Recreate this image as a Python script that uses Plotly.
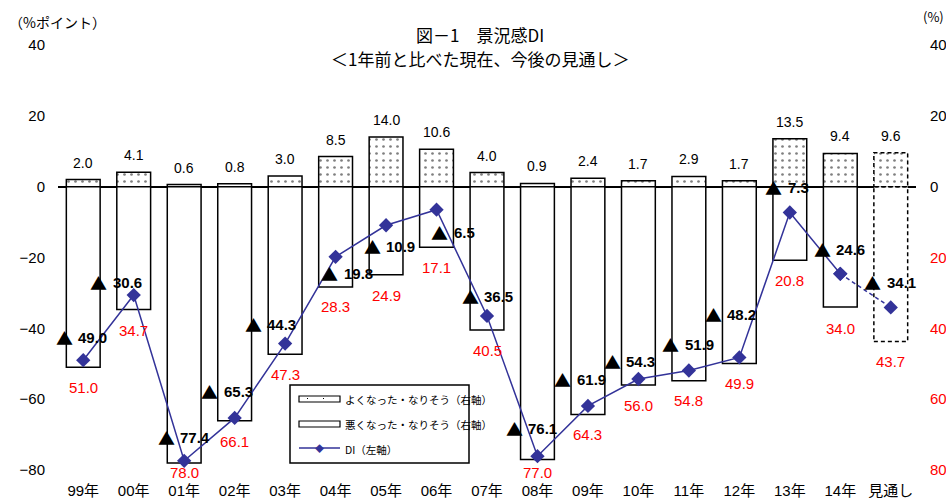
import plotly.graph_objects as go

# ---- data -------------------------------------------------------------
categories = ["99年", "00年", "01年", "02年", "03年", "04年", "05年", "06年",
              "07年", "08年", "09年", "10年", "11年", "12年", "13年", "14年", "見通し"]
better = [2.0, 4.1, 0.6, 0.8, 3.0, 8.5, 14.0, 10.6, 4.0, 0.9, 2.4, 1.7, 2.9, 1.7, 13.5, 9.4, 9.6]
worse = [51.0, 34.7, 78.0, 66.1, 47.3, 28.3, 24.9, 17.1, 40.5, 77.0, 64.3, 56.0, 54.8, 49.9, 20.8, 34.0, 43.7]
di = [-49.0, -30.6, -77.4, -65.3, -44.3, -19.8, -10.9, -6.5, -36.5, -76.1, -61.9,
      -54.3, -51.9, -48.2, -7.3, -24.6, -34.1]

left_tickvals = [40, 20, 0, -20, -40, -60, -80]
right_ticktext = ["40", "20", "0", "20", "40", "60", "80"]

# ---- styling constants ------------------------------------------------
BAR_W = 0.67
DI_COLOR = "#333399"
RED = "#FF0000"
FONT = "Liberation Sans, Noto Sans CJK JP, sans-serif"
JFONT = "Noto Sans CJK JP, sans-serif"
SHORT_DASH = "4px,3px"

# pixel offsets of each DI label's ▲ from its point (dx right, dy down)
di_tri_dx = [-19, -35, -18, -25, -32, -6, -14, 3, -17, -23, -25, -26, -18, -26, -16, -18, -18]
di_tri_dy = [-23, -13, -23, -26, -19, 17, 21, 23, -19, -28, -26, -17, -26, -43, -25, -24, -25]
# pixel drop of each red label below its bar end
worse_label_dy = [20, 21, 10, 21, 20, 20, 21, 20, 20, 13, 20, 20, 20, 20, 20, 21, 20]

n = len(categories)
idx = list(range(n))
last = n - 1

fig = go.Figure()

edge_colors = ["black"] * (n - 1) + ["rgba(0,0,0,0)"]

# bars read against the right-hand axis
fig.add_trace(go.Bar(
    x=idx, y=better, width=BAR_W, yaxis="y",
    marker=dict(color="white",
                pattern=dict(shape=".", fgcolor="black", bgcolor="white", size=7, solidity=0.12),
                line=dict(color=edge_colors, width=1.5)),
    hoverinfo="skip", showlegend=False,
))
fig.add_trace(go.Bar(
    x=idx, y=[-v for v in worse], width=BAR_W, yaxis="y",
    marker=dict(color="white", line=dict(color=edge_colors, width=1.5)),
    hoverinfo="skip", showlegend=False,
))

# DI line read against the left-hand axis; outlook segment dashed
fig.add_trace(go.Scatter(
    x=idx[:last], y=di[:last], yaxis="y2", mode="lines+markers",
    line=dict(color=DI_COLOR, width=1.5),
    marker=dict(symbol="diamond", size=11, color=DI_COLOR),
    hoverinfo="skip", showlegend=False,
))
fig.add_trace(go.Scatter(
    x=idx[last - 1:], y=di[last - 1:], yaxis="y2", mode="lines+markers",
    line=dict(color=DI_COLOR, width=1.5, dash=SHORT_DASH),
    marker=dict(symbol="diamond", size=11, color=DI_COLOR),
    hoverinfo="skip", showlegend=False,
))

# dashed outline for the outlook bar
for top, bottom in [(better[last], 0), (0, -worse[last])]:
    fig.add_shape(type="rect", xref="x", yref="y",
                  x0=last - BAR_W / 2, x1=last + BAR_W / 2, y0=bottom, y1=top,
                  line=dict(color="black", width=1.5, dash=SHORT_DASH), layer="above")

ann = []
for i in idx:
    ann.append(dict(x=i, y=better[i], xref="x", yref="y", text=f"{better[i]:.1f}",
                    showarrow=False, yshift=17, font=dict(size=14, color="black", family=FONT)))
    ann.append(dict(x=i, y=-worse[i], xref="x", yref="y", text=f"{worse[i]:.1f}",
                    showarrow=False, yshift=-worse_label_dy[i],
                    font=dict(size=15, color=RED, family=FONT)))
    ann.append(dict(x=i, y=di[i], xref="x", yref="y2", text="▲",
                    showarrow=False, xshift=di_tri_dx[i], yshift=-di_tri_dy[i],
                    font=dict(size=17, color="black", family=JFONT)))
    ann.append(dict(x=i, y=di[i], xref="x", yref="y2", text=f"{abs(di[i]):.1f}",
                    showarrow=False, xanchor="left", xshift=di_tri_dx[i] + 12, yshift=-di_tri_dy[i],
                    font=dict(size=15, color="black", family=FONT, weight="bold")))


def px(x):
    return (x - 58) / 858


def py(y):
    return (470 - y) / 425


def note(text, x, y, size, xanchor="center", color="black"):
    return dict(x=px(x), y=py(y), xref="paper", yref="paper", xanchor=xanchor,
                yanchor="middle", text=text, showarrow=False, borderpad=0,
                font=dict(size=size, color=color, family=JFONT))


# titles and axis units
ann.append(note("図－1　景況感DI", 480, 34, 17))
ann.append(note("＜1年前と比べた現在、今後の見通し＞", 480, 58, 17))
ann.append(note("（%ポイント）", 8, 22, 14, xanchor="left"))
ann.append(note("(%)", 945, 16, 13, xanchor="right"))

# legend box
shapes = []
shapes.append(dict(type="rect", xref="paper", yref="paper", x0=px(290), x1=px(469),
                   y0=py(463), y1=py(385), line=dict(color="black", width=1.5),
                   fillcolor="white", layer="above"))
shapes.append(dict(type="rect", xref="paper", yref="paper", x0=px(299), x1=px(340),
                   y0=py(402), y1=py(396), line=dict(color="black", width=1.2),
                   fillcolor="white", layer="above"))
for dxp in (307, 323):
    shapes.append(dict(type="rect", xref="paper", yref="paper", x0=px(dxp), x1=px(dxp + 1),
                       y0=py(399), y1=py(398), line=dict(width=0), fillcolor="black",
                       layer="above"))
shapes.append(dict(type="rect", xref="paper", yref="paper", x0=px(299), x1=px(340),
                   y0=py(427), y1=py(421), line=dict(color="black", width=1.2),
                   fillcolor="white", layer="above"))
shapes.append(dict(type="line", xref="paper", yref="paper", x0=px(299), x1=px(340),
                   y0=py(448), y1=py(448), line=dict(color=DI_COLOR, width=1.5), layer="above"))
for s in shapes:
    fig.add_shape(**s)

ann.append(note("◆", 319, 448, 9, color=DI_COLOR))
for label, yy in [("よくなった・なりそう（右軸）", 399), ("悪くなった・なりそう（右軸）", 424),
                  ("DI（左軸）", 449)]:
    ann.append(note(label, 344, yy, 10.5, xanchor="left"))

right_colored = [t if v >= 0 else f'<span style="color:{RED}">{t}</span>'
                 for v, t in zip(left_tickvals, right_ticktext)]

fig.update_layout(
    width=946, height=499,
    margin=dict(l=58, r=30, t=45, b=29, autoexpand=False),
    paper_bgcolor="white", plot_bgcolor="white",
    barmode="overlay",
    font=dict(family=FONT, size=14, color="black"),
    xaxis=dict(range=[-0.5, n - 0.5], tickvals=idx, ticktext=categories, automargin=False,
               showgrid=False, zeroline=False, showline=False, ticks="",
               ticklabelstandoff=10, tickfont=dict(size=15, family=FONT)),
    yaxis=dict(range=[-80, 40], side="right", tickvals=left_tickvals, ticktext=right_colored,
               automargin=False,
               showgrid=False, zeroline=True, zerolinecolor="black", zerolinewidth=2,
               showline=False, ticks="", ticklabelstandoff=13,
               tickfont=dict(size=15, family=FONT)),
    yaxis2=dict(range=[-80, 40], side="left", overlaying="y", tickvals=left_tickvals,
                automargin=False,
                showgrid=False, zeroline=False, showline=False, ticks="",
                ticklabelstandoff=12, tickfont=dict(size=15, family=FONT)),
    annotations=ann,
    showlegend=False,
)

fig.write_html("out.html")
